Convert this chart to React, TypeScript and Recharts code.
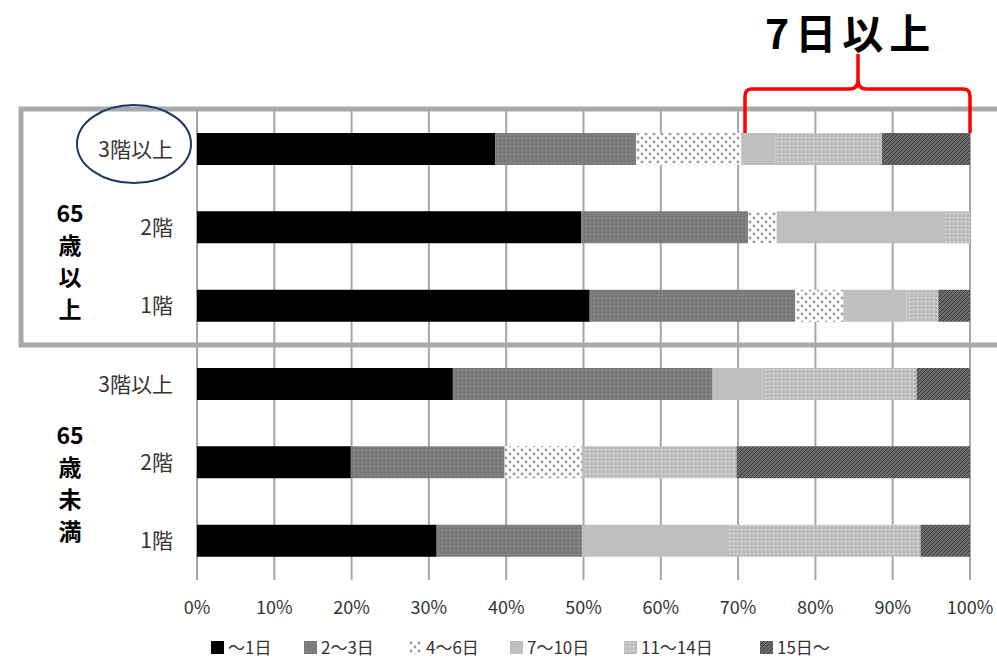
import { BarChart, Bar, XAxis, YAxis, CartesianGrid } from "recharts"

// 行（上から）: 65歳以上 3階以上/2階/1階, 65歳未満 3階以上/2階/1階
const rows = ["o3", "o2", "o1", "y3", "y2", "y1"]
const floorLabels = ["3階以上", "2階", "1階", "3階以上", "2階", "1階"]

const seriesNames = ["～1日", "2～3日", "4～6日", "7～10日", "11～14日", "15日～"]
const d1 = [38.6, 49.7, 50.8, 33.1, 19.9, 31.0]
const d2 = [18.2, 21.6, 26.6, 33.6, 19.9, 18.8]
const d3 = [13.6, 3.7, 6.2, 0, 10.0, 0]
const d4 = [4.4, 21.5, 8.2, 6.5, 0, 18.9]
const d5 = [13.8, 3.5, 4.1, 19.9, 20.0, 24.9]
const d6 = [11.4, 0, 4.1, 6.9, 30.2, 6.4]

const ticks = [0, 0.1, 0.2, 0.3, 0.4, 0.5, 0.6, 0.7, 0.8, 0.9, 1]

const fills = [
  "#000000",
  "url(#p23)",
  "url(#p46)",
  "#bfbfbf",
  "url(#p1114)",
  "url(#p15)",
]

// legend icon x positions
const legendX = [211, 304, 409, 510, 624, 760]

const data = rows.map((r, i) => ({
  row: r,
  s0: d1[i],
  s1: d2[i],
  s2: d3[i],
  s3: d4[i],
  s4: d5[i],
  s5: d6[i],
}))

const font = '"Noto Sans CJK JP", "Noto Sans", sans-serif'

export default function App() {
  return (
    <div
      style={{
        position: "absolute",
        left: 0,
        top: 0,
        width: 997,
        height: 661,
        background: "#fff",
        fontFamily: font,
        overflow: "hidden",
      }}
    >
      <svg width={0} height={0} style={{ position: "absolute" }}>
        <defs>
          <pattern id="p23" width={4} height={4} patternUnits="userSpaceOnUse">
            <rect width={4} height={4} fill="#7d7d7d" />
            <rect x={0} y={0} width={1} height={1} fill="#6b6b6b" />
            <rect x={2} y={2} width={1} height={1} fill="#8a8a8a" />
          </pattern>
          <pattern id="p46" width={8} height={8} patternUnits="userSpaceOnUse">
            <rect width={8} height={8} fill="#ffffff" />
            <circle cx={2} cy={2} r={1.4} fill="#9a9a9a" />
            <circle cx={6} cy={6} r={1.4} fill="#9a9a9a" />
          </pattern>
          <pattern id="p1114" width={4} height={4} patternUnits="userSpaceOnUse">
            <rect width={4} height={4} fill="#bdbdbd" />
            <rect x={1} y={1} width={1.3} height={1.3} fill="#ececec" />
          </pattern>
          <pattern id="p15" width={4} height={4} patternUnits="userSpaceOnUse">
            <rect width={4} height={4} fill="#6a6a6a" />
            <path d="M-1,1 l2,-2 M0,4 l4,-4 M3,5 l2,-2" stroke="#3e3e3e" strokeWidth={1} />
          </pattern>
        </defs>
      </svg>

      <BarChart
        width={997}
        height={661}
        data={data}
        layout="vertical"
        stackOffset="expand"
        barSize={32}
        margin={{ top: 110, right: 27, bottom: 41, left: 0 }}
      >
        <CartesianGrid horizontal={false} stroke="#a6a6a6" strokeWidth={2} />
        <XAxis
          type="number"
          domain={[0, 1]}
          ticks={ticks}
          tickFormatter={(v: number) => `${Math.round(v * 100)}%`}
          axisLine={false}
          tickLine={false}
          tickSize={0}
          tickMargin={21}
          height={40}
          tick={{ fill: "#333", fontSize: 18, fontFamily: font }}
        />
        <YAxis
          type="category"
          dataKey="row"
          width={197}
          axisLine={false}
          tickLine={false}
          tickSize={0}
          tickMargin={24}
          tickFormatter={(v: string) => floorLabels[rows.indexOf(v)]}
          tick={{ fill: "#333", fontSize: 21, fontFamily: font }}
        />
        {seriesNames.map((n, i) => (
          <Bar
            key={n}
            dataKey={`s${i}`}
            name={n}
            stackId="a"
            fill={fills[i]}
            isAnimationActive={false}
          />
        ))}
      </BarChart>

      {/* overlays: box, ellipse, brace */}
      <svg
        width={997}
        height={661}
        style={{ position: "absolute", left: 0, top: 0, pointerEvents: "none" }}
      >
        <rect x={21} y={109} width={990} height={236} fill="none" stroke="#a9a9a9" strokeWidth={5} />
        <ellipse cx={134} cy={144} rx={57} ry={39} fill="none" stroke="#1f3864" strokeWidth={2} />
        <path
          d="M745,133 L745,96 Q745,89 752,89 L850,89 Q858,89 858,80 L858,54 M858,54 L858,80 Q858,89 866,89 L963,89 Q970,89 970,96 L970,133"
          fill="none"
          stroke="#ff0000"
          strokeWidth={3.5}
        />
      </svg>

      <div
        style={{
          position: "absolute",
          left: 765,
          top: 6,
          fontSize: 41,
          fontWeight: 700,
          letterSpacing: 6,
          color: "#000",
          lineHeight: "50px",
          whiteSpace: "nowrap",
        }}
      >
        7日以上
      </div>

      {[
        { top: 196, lines: ["65", "歳", "以", "上"] },
        { top: 418, lines: ["65", "歳", "未", "満"] },
      ].map((g, k) => (
        <div
          key={k}
          style={{
            position: "absolute",
            left: 40,
            top: g.top,
            width: 60,
            textAlign: "center",
            fontSize: 23,
            fontWeight: 700,
            lineHeight: "32px",
            color: "#000",
          }}
        >
          {g.lines.map((l) => (
            <div key={l}>{l}</div>
          ))}
        </div>
      ))}

      {seriesNames.map((n, i) => (
        <div
          key={n}
          style={{
            position: "absolute",
            left: legendX[i],
            top: 636,
            display: "flex",
            alignItems: "center",
            fontSize: 17,
            color: "#333",
            lineHeight: "22px",
            whiteSpace: "nowrap",
          }}
        >
          <svg width={13} height={13} style={{ marginRight: 4 }}>
            <rect x={0} y={0} width={13} height={13} fill={fills[i]} />
          </svg>
          <span>{n}</span>
        </div>
      ))}
    </div>
  )
}
